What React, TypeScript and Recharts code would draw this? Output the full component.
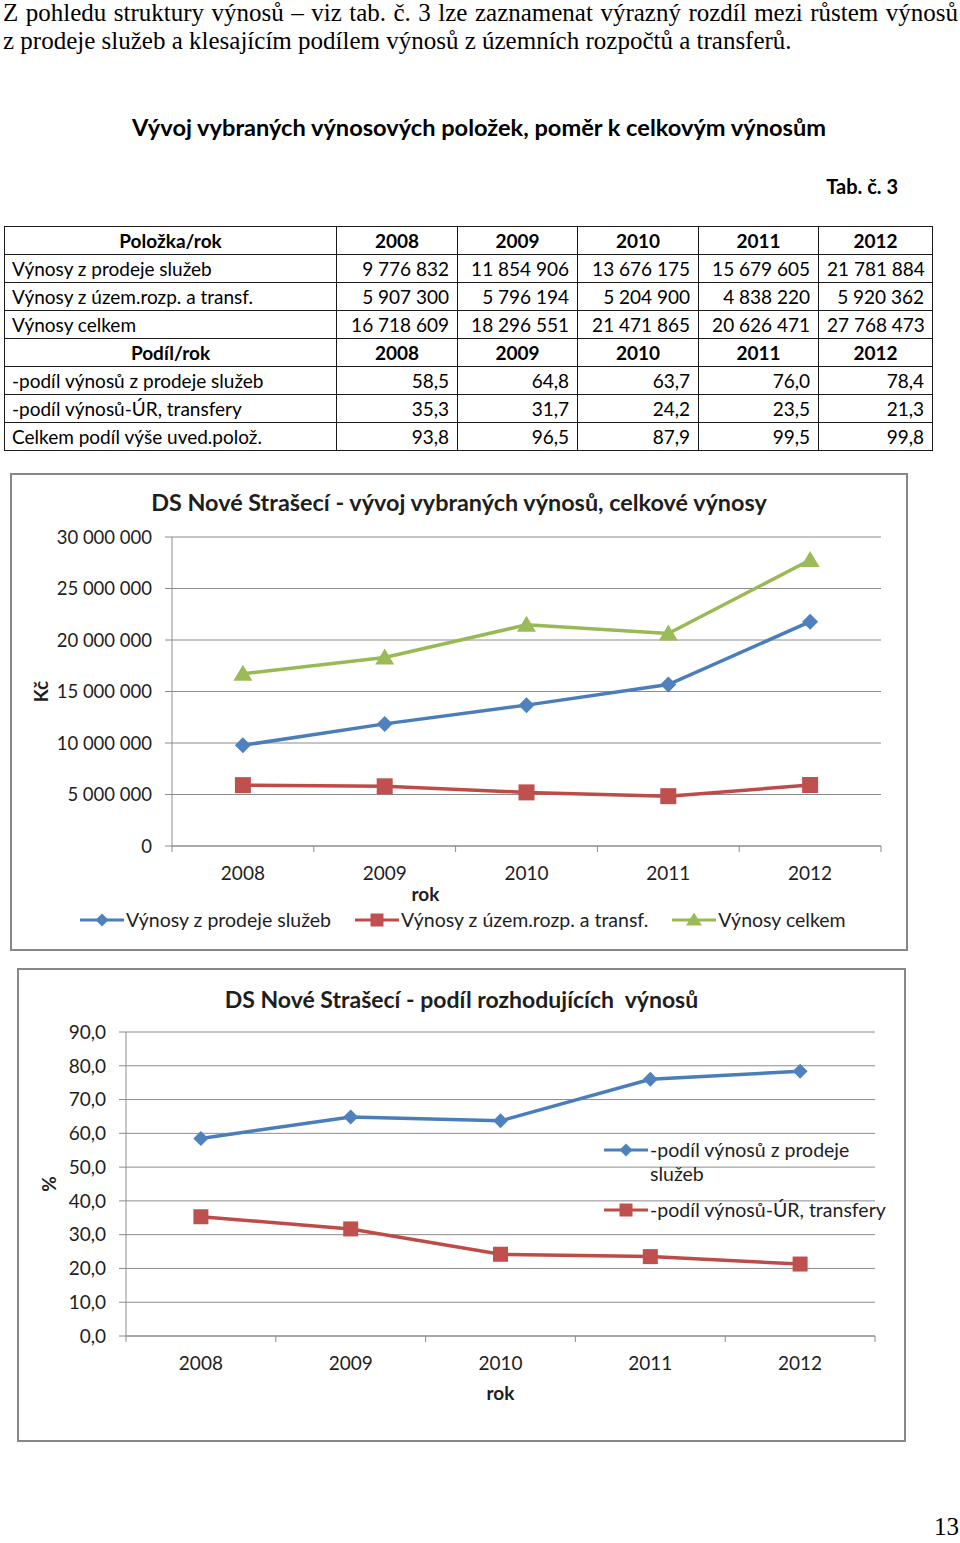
import React from 'react'
import { LineChart, Line, XAxis, YAxis, CartesianGrid, Legend } from 'recharts'

// roky a hodnoty z tab. č. 3
const years = ['2008', '2009', '2010', '2011', '2012']
const prodejSluzeb = [9776832, 11854906, 13676175, 15679605, 21781884]
const uzemRozp = [5907300, 5796194, 5204900, 4838220, 5920362]
const vynosyCelkem = [16718609, 18296551, 21471865, 20626471, 27768473]
const podilSluzeb = [58.5, 64.8, 63.7, 76.0, 78.4]
const podilUR = [35.3, 31.7, 24.2, 23.5, 21.3]
const podilCelkem = [93.8, 96.5, 87.9, 99.5, 99.8]

const kcTicks = [0, 5000000, 10000000, 15000000, 20000000, 25000000, 30000000]
const pctTicks = [0, 10, 20, 30, 40, 50, 60, 70, 80, 90]

const FONT = 'Lato, "Open Sans", sans-serif'
const SERIF = '"Liberation Serif", "Times New Roman", serif'
const GRID = '#8c8c8c'
const TXT = '#1e1e1e'
const BLUE = '#4a7ebb'
const BLUE_FILL = '#4f81bd'
const RED = '#be4b48'
const RED_FILL = '#c0504d'
const GREEN = '#98b954'
const GREEN_FILL = '#9bbb59'

const revenueSeries = [
  { key: 'sluzby', name: 'Výnosy z prodeje služeb', color: BLUE, fill: BLUE_FILL, shape: 'diamond' },
  { key: 'uzem', name: 'Výnosy z územ.rozp. a transf.', color: RED, fill: RED_FILL, shape: 'square' },
  { key: 'celkem', name: 'Výnosy celkem', color: GREEN, fill: GREEN_FILL, shape: 'triangle' }
]
const shareSeries = [
  { key: 'sluzby', name: '-podíl výnosů z prodeje služeb', color: BLUE, fill: BLUE_FILL, shape: 'diamond' },
  { key: 'ur', name: '-podíl výnosů-ÚR, transfery', color: RED, fill: RED_FILL, shape: 'square' }
]

const revenueData = years.map((rok, i) => ({
  rok,
  sluzby: prodejSluzeb[i],
  uzem: uzemRozp[i],
  celkem: vynosyCelkem[i]
}))
const shareData = years.map((rok, i) => ({ rok, sluzby: podilSluzeb[i], ur: podilUR[i] }))

const fmtKc = (v: number) => String(v).replace(/\B(?=(\d{3})+(?!\d))/g, ' ')
const fmtPct = (v: number) => v.toFixed(1).replace('.', ',')

function Marker({ shape, cx, cy, fill, s = 8 }: any) {
  if (cx == null || cy == null) return null
  if (shape === 'diamond') {
    return <path d={`M${cx} ${cy - s}L${cx + s} ${cy}L${cx} ${cy + s}L${cx - s} ${cy}Z`} fill={fill} />
  }
  if (shape === 'square') {
    return <rect x={cx - s} y={cy - s} width={s * 2} height={s * 2} fill={fill} />
  }
  return <path d={`M${cx} ${cy - s - 1}L${cx + s + 1.5} ${cy + s - 1}L${cx - s - 1.5} ${cy + s - 1}Z`} fill={fill} />
}

// popisky osy x + značky na hranicích kategorií (jako v Excelu)
const makeTick = (band: number, last: number) => (props: any) => {
  const { x, y, payload, index } = props
  return (
    <g>
      <line x1={x - band / 2} x2={x - band / 2} y1={y} y2={y + 6} stroke={GRID} />
      {index === last && <line x1={x + band / 2} x2={x + band / 2} y1={y} y2={y + 6} stroke={GRID} />}
      <text x={x} y={y + 26} textAnchor="middle" dominantBaseline="central" fill={TXT} fontSize={19} fontFamily={FONT}>
        {payload.value}
      </text>
    </g>
  )
}

function LegendBox({ items, vertical, textWidth }: any) {
  return (
    <div
      style={{
        display: 'flex',
        flexDirection: vertical ? 'column' : 'row',
        gap: vertical ? 12 : 24,
        fontFamily: FONT,
        fontSize: 19.5,
        color: TXT,
        lineHeight: '24px'
      }}
    >
      {items.map((it: any) => (
        <div key={it.key} style={{ display: 'flex', alignItems: 'flex-start' }}>
          <svg width={44} height={24} style={{ flex: 'none' }}>
            <line x1={0} x2={44} y1={12} y2={12} stroke={it.color} strokeWidth={3} />
            <Marker shape={it.shape} cx={22} cy={12} fill={it.fill} s={6.5} />
          </svg>
          <span style={{ width: textWidth, marginLeft: 2, whiteSpace: vertical ? 'normal' : 'nowrap' }}>{it.name}</span>
        </div>
      ))}
    </div>
  )
}

const cell: React.CSSProperties = {
  border: '1px solid #1a1a1a',
  padding: '0 8px',
  height: 27,
  fontFamily: FONT,
  fontSize: 19,
  color: '#000',
  whiteSpace: 'nowrap'
}

function DataTable() {
  const head = (label: string) => (
    <tr>
      <td style={{ ...cell, fontWeight: 700, textAlign: 'center' }}>{label}</td>
      {years.map(y => (
        <td key={y} style={{ ...cell, fontWeight: 700, textAlign: 'center' }}>{y}</td>
      ))}
    </tr>
  )
  const row = (label: string, vals: number[], fmt: (v: number) => string) => (
    <tr>
      <td style={{ ...cell, paddingLeft: 7 }}>{label}</td>
      {vals.map((v, i) => (
        <td key={i} style={{ ...cell, textAlign: 'right' }}>{fmt(v)}</td>
      ))}
    </tr>
  )
  return (
    <table
      style={{
        position: 'absolute',
        left: 4,
        top: 226,
        width: 928,
        borderCollapse: 'collapse',
        tableLayout: 'fixed'
      }}
    >
      <colgroup>
        <col style={{ width: 332 }} />
        <col style={{ width: 121 }} />
        <col style={{ width: 120 }} />
        <col style={{ width: 121 }} />
        <col style={{ width: 120 }} />
        <col style={{ width: 114 }} />
      </colgroup>
      <tbody>
        {head('Položka/rok')}
        {row('Výnosy z prodeje služeb', prodejSluzeb, fmtKc)}
        {row('Výnosy z územ.rozp. a transf.', uzemRozp, fmtKc)}
        {row('Výnosy celkem', vynosyCelkem, fmtKc)}
        {head('Podíl/rok')}
        {row('-podíl výnosů z prodeje služeb', podilSluzeb, fmtPct)}
        {row('-podíl výnosů-ÚR, transfery', podilUR, fmtPct)}
        {row('Celkem podíl výše uved.polož.', podilCelkem, fmtPct)}
      </tbody>
    </table>
  )
}

const boxStyle: React.CSSProperties = {
  position: 'absolute',
  border: '2px solid #878787',
  background: '#fff'
}
const titleStyle: React.CSSProperties = {
  position: 'absolute',
  left: 0,
  width: '100%',
  textAlign: 'center',
  fontFamily: FONT,
  fontWeight: 700,
  fontSize: 23.4,
  lineHeight: '28px',
  color: TXT
}

function RevenueChart() {
  const band = 709 / years.length
  return (
    <div style={{ ...boxStyle, left: 10, top: 473, width: 894, height: 474 }}>
      <div style={{ ...titleStyle, top: 13 }}>DS Nové Strašecí - vývoj vybraných výnosů, celkové výnosy</div>
      <div style={{ position: 'absolute', left: 0, top: 0 }}>
        <LineChart width={894} height={474} data={revenueData} margin={{ top: 62, right: 25, bottom: 43, left: 10 }}>
          <CartesianGrid vertical={false} stroke={GRID} />
          <XAxis
            dataKey="rok"
            scale="band"
            height={60}
            axisLine={{ stroke: GRID }}
            tickLine={false}
            tickSize={0}
            tickMargin={0}
            interval={0}
            tick={makeTick(band, years.length - 1)}
            label={{
              value: 'rok',
              content: (p: any) => {
                const vb = p.viewBox || { x: 160, y: 371, width: 709, height: 60 }
                return (
                  <text x={vb.x + vb.width / 2 - 101} y={vb.y + 47} textAnchor="middle" dominantBaseline="central" fontFamily={FONT} fontWeight={700} fontSize={19} fill={TXT}>
                    rok
                  </text>
                )
              }
            }}
          />
          <YAxis
            width={150}
            domain={[0, 30000000]}
            ticks={kcTicks}
            interval={0}
            tickFormatter={fmtKc}
            axisLine={{ stroke: GRID }}
            tickLine={{ stroke: GRID }}
            tickSize={7}
            tickMargin={13}
            tick={{ fill: TXT, fontSize: 18.5, fontFamily: FONT }}
            label={{
              value: 'Kč',
              content: (p: any) => {
                const vb = p.viewBox || { x: 10, y: 62, width: 150, height: 309 }
                const x = vb.x + 18
                const y = vb.y + vb.height / 2
                return (
                  <text x={x} y={y} transform={`rotate(-90 ${x} ${y})`} textAnchor="middle" dominantBaseline="central" fontFamily={FONT} fontWeight={700} fontSize={19} fill={TXT}>
                    Kč
                  </text>
                )
              }
            }}
          />
          <Legend
            layout="horizontal"
            verticalAlign="middle"
            align="center"
            wrapperStyle={{ left: 68, top: 433, width: 820, height: 24 }}
            content={() => <LegendBox items={revenueSeries} />}
          />
          {revenueSeries.map(s => (
            <Line
              key={s.key}
              dataKey={s.key}
              name={s.name}
              stroke={s.color}
              strokeWidth={3.5}
              isAnimationActive={false}
              activeDot={false}
              dot={(p: any) => <Marker key={`${s.key}-${p.index}`} shape={s.shape} cx={p.cx} cy={p.cy} fill={s.fill} />}
            />
          ))}
        </LineChart>
      </div>
    </div>
  )
}

function ShareChart() {
  const band = 749 / years.length
  return (
    <div style={{ ...boxStyle, left: 17, top: 968, width: 885, height: 470 }}>
      <div style={{ ...titleStyle, top: 15, fontSize: 23 }}>DS Nové Strašecí - podíl rozhodujících&nbsp; výnosů</div>
      <div style={{ position: 'absolute', left: 0, top: 0 }}>
        <LineChart width={885} height={470} data={shareData} margin={{ top: 62, right: 29, bottom: 36, left: 10 }}>
          <CartesianGrid vertical={false} stroke={GRID} />
          <XAxis
            dataKey="rok"
            scale="band"
            height={68}
            axisLine={{ stroke: GRID }}
            tickLine={false}
            tickSize={0}
            tickMargin={0}
            interval={0}
            tick={makeTick(band, years.length - 1)}
            label={{
              value: 'rok',
              content: (p: any) => {
                const vb = p.viewBox || { x: 107, y: 366, width: 749, height: 68 }
                return (
                  <text x={vb.x + vb.width / 2} y={vb.y + 56} textAnchor="middle" dominantBaseline="central" fontFamily={FONT} fontWeight={700} fontSize={19} fill={TXT}>
                    rok
                  </text>
                )
              }
            }}
          />
          <YAxis
            width={97}
            domain={[0, 90]}
            ticks={pctTicks}
            interval={0}
            tickFormatter={fmtPct}
            axisLine={{ stroke: GRID }}
            tickLine={{ stroke: GRID }}
            tickSize={7}
            tickMargin={13}
            tick={{ fill: TXT, fontSize: 19, fontFamily: FONT }}
            label={{
              value: '%',
              content: (p: any) => {
                const vb = p.viewBox || { x: 10, y: 62, width: 97, height: 304 }
                const x = vb.x + 19
                const y = vb.y + vb.height / 2
                return (
                  <text x={x} y={y} transform={`rotate(-90 ${x} ${y})`} textAnchor="middle" dominantBaseline="central" fontFamily={FONT} fontWeight={700} fontSize={19} fill={TXT}>
                    %
                  </text>
                )
              }
            }}
          />
          <Legend
            layout="horizontal"
            verticalAlign="middle"
            align="center"
            wrapperStyle={{ left: 585, top: 168, width: 296, height: 90 }}
            content={() => <LegendBox items={shareSeries} vertical textWidth={244} />}
          />
          {shareSeries.map(s => (
            <Line
              key={s.key}
              dataKey={s.key}
              name={s.name}
              stroke={s.color}
              strokeWidth={3.5}
              isAnimationActive={false}
              activeDot={false}
              dot={(p: any) => <Marker key={`${s.key}-${p.index}`} shape={s.shape} cx={p.cx} cy={p.cy} fill={s.fill} s={7.5} />}
            />
          ))}
        </LineChart>
      </div>
    </div>
  )
}

export default function App() {
  const para: React.CSSProperties = {
    position: 'absolute',
    left: 3,
    fontFamily: SERIF,
    fontSize: 25,
    lineHeight: '28px',
    color: '#000',
    whiteSpace: 'nowrap'
  }
  return (
    <div style={{ position: 'absolute', left: 0, top: 0, width: 960, height: 1543, background: '#fff', overflow: 'hidden' }}>
      <div style={{ ...para, top: -1, width: 955, textAlign: 'justify', textAlignLast: 'justify', whiteSpace: 'normal' }}>
        Z pohledu struktury výnosů – viz tab. č. 3 lze zaznamenat výrazný rozdíl mezi růstem výnosů
      </div>
      <div style={{ ...para, top: 27 }}>
        z prodeje služeb a klesajícím podílem výnosů z územních rozpočtů a transferů.
      </div>

      <div style={{ position: 'absolute', left: 0, top: 113, width: 958, textAlign: 'center', fontFamily: FONT, fontWeight: 700, fontSize: 23.6, lineHeight: '28px', color: '#000' }}>
        Vývoj vybraných výnosových položek, poměr k celkovým výnosům
      </div>
      <div style={{ position: 'absolute', left: 700, top: 173, width: 198, textAlign: 'right', fontFamily: FONT, fontWeight: 700, fontSize: 20, lineHeight: '26px', color: '#000' }}>
        Tab. č. 3
      </div>

      <DataTable />
      <RevenueChart />
      <ShareChart />

      <div style={{ ...para, left: 934, top: 1513 }}>13</div>
    </div>
  )
}
